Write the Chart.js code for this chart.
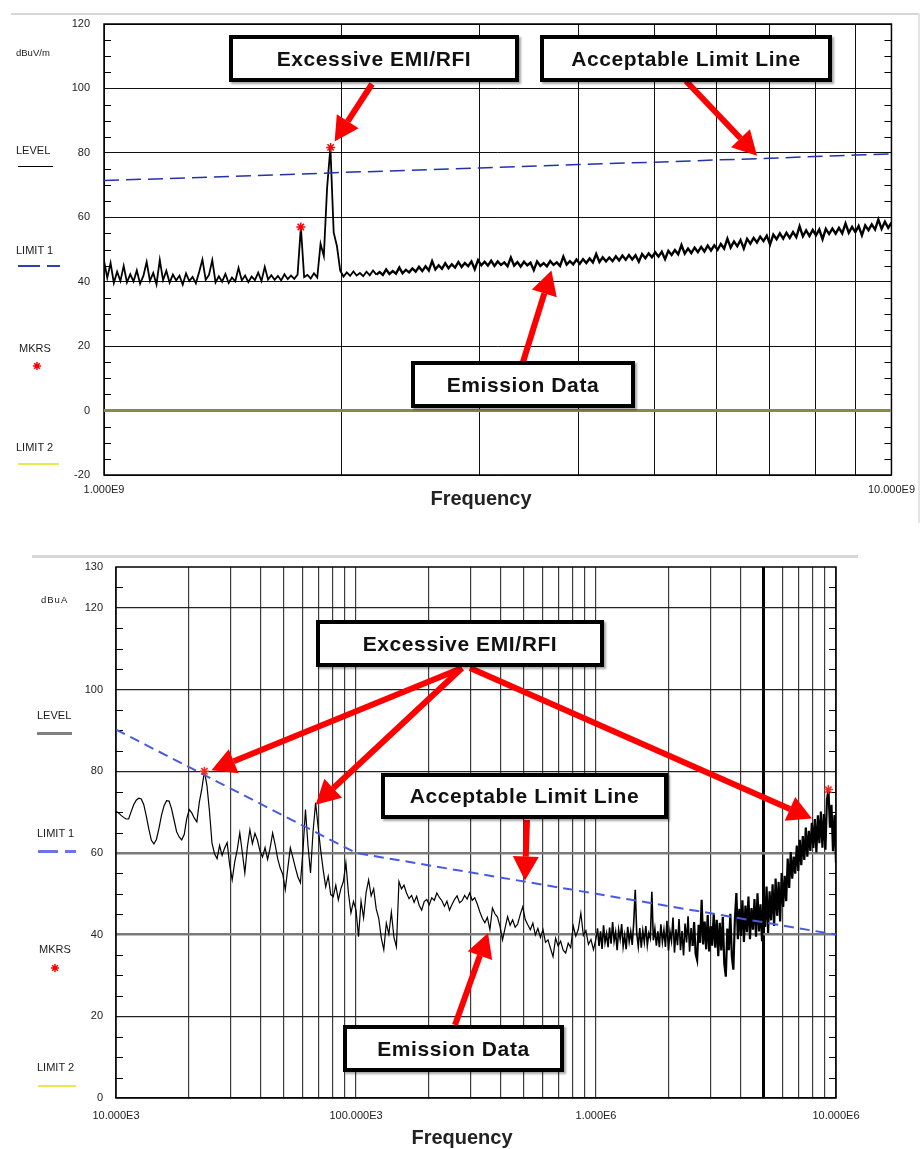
<!DOCTYPE html>
<html>
<head>
<meta charset="utf-8">
<title>EMI / RFI emission scans</title>
<script src="https://cdn.jsdelivr.net/npm/chart.js@4.4.1/dist/chart.umd.min.js"></script>
<style>
  body { margin:0; background:#fff; width:923px; height:1149px; position:relative; overflow:hidden;
         font-family:"Liberation Sans", Arial, sans-serif; color:#111; }
  .sep { position:absolute; background:#d6d6d6; }
  .wrap { position:absolute; left:0; }
  .lbl { position:absolute; font-size:11px; line-height:12px; white-space:nowrap; color:#1a1a1a; }
  .sw { position:absolute; }
  .box { position:absolute; box-sizing:border-box; border:4px solid #000; background:#fff;
         font-weight:bold; font-size:21px; letter-spacing:0.6px; display:flex; align-items:center;
         justify-content:center; box-shadow:2px 2px 2px rgba(0,0,0,0.35); white-space:nowrap; }
  .freq { position:absolute; width:200px; text-align:center; font-weight:bold; font-size:20px; line-height:24px; color:#222; }
</style>
</head>
<body>

<div class="sep" style="left:11px;top:13px;width:908px;height:2px"></div>
<div class="sep" style="left:918px;top:13px;width:2px;height:510px;background:#e4e4e4"></div>
<div class="sep" style="left:32px;top:555px;width:826px;height:3px"></div>

<div class="wrap" style="top:0"><canvas id="topChart" width="923" height="520"></canvas></div>
<div class="wrap" style="top:540px"><canvas id="botChart" width="923" height="609"></canvas></div>

<!-- top chart side legend -->
<div class="lbl" style="left:16px;top:47px;font-size:9.5px">dBuV/m</div>
<div class="lbl" style="left:16px;top:144px">LEVEL</div>
<div class="sw" style="left:18px;top:166px;width:35px;height:1px;background:#000"></div>
<div class="lbl" style="left:16px;top:244px">LIMIT 1</div>
<div class="sw" style="left:18px;top:265px;width:22px;height:1.5px;background:#3040b0"></div>
<div class="sw" style="left:47px;top:265px;width:13px;height:1.5px;background:#3040b0"></div>
<div class="lbl" style="left:19px;top:342px">MKRS</div>
<div class="lbl" style="left:16px;top:441px">LIMIT 2</div>
<div class="sw" style="left:18px;top:463px;width:41px;height:1.5px;background:#e8e850"></div>
<div class="freq" style="left:381px;top:486px">Frequency</div>

<!-- bottom chart side legend -->
<div class="lbl" style="left:41px;top:594px;font-size:9.5px;letter-spacing:1px">dBuA</div>
<div class="lbl" style="left:37px;top:709px">LEVEL</div>
<div class="sw" style="left:37px;top:732px;width:35px;height:3px;background:#808080"></div>
<div class="lbl" style="left:37px;top:827px">LIMIT 1</div>
<div class="sw" style="left:38px;top:850px;width:20px;height:2.5px;background:#6676e6"></div>
<div class="sw" style="left:65px;top:850px;width:11px;height:2.5px;background:#6676e6"></div>
<div class="lbl" style="left:39px;top:943px">MKRS</div>
<div class="lbl" style="left:37px;top:1061px">LIMIT 2</div>
<div class="sw" style="left:38px;top:1085px;width:38px;height:1.5px;background:#e8e850"></div>
<div class="freq" style="left:362px;top:1125px">Frequency</div>

<!-- call-out boxes -->
<div class="box" style="left:229px;top:35px;width:290px;height:47px">Excessive EMI/RFI</div>
<div class="box" style="left:540px;top:35px;width:292px;height:47px">Acceptable Limit Line</div>
<div class="box" style="left:411px;top:361px;width:224px;height:47px">Emission Data</div>
<div class="box" style="left:316px;top:620px;width:288px;height:47px">Excessive EMI/RFI</div>
<div class="box" style="left:381px;top:773px;width:287px;height:46px">Acceptable Limit Line</div>
<div class="box" style="left:343px;top:1025px;width:221px;height:47px">Emission Data</div>

<script>
// ---------- top scan: 1 GHz .. 10 GHz, dBuV/m ----------
var topStart = 1e9, topStop = 1e10;
var topLevel = [
  46.5, 41.2, 45.8, 39.6, 43.1, 40.2, 44.9, 39.8, 42.3, 40.1,
  43.5, 39.4, 41.8, 46.1, 40.3, 42.7, 39.2, 46.8, 40.5, 43.4,
  39.7, 42.2, 40.4, 41.9, 39.1, 42.6, 40.2, 41.5, 39.5, 43.0,
  46.9, 40.6, 42.1, 46.7, 39.8, 41.7, 40.0, 42.4, 39.6, 41.3,
  40.1, 44.3, 40.4, 41.9, 39.9, 41.6, 40.5, 42.8, 40.2, 44.6,
  40.7, 42.0, 40.6, 41.8, 40.4, 42.3, 40.8, 41.9, 40.9, 42.2,
  57.0, 41.4, 42.1, 41.0, 42.6, 41.3, 51.8, 48.0, 69.2, 81.7,
  55.3, 51.0, 43.4, 41.6, 42.9, 41.8, 43.2, 41.9, 42.7, 41.7,
  43.1, 42.0, 43.5, 42.2, 43.0, 42.1, 43.8, 42.4, 43.3, 42.5,
  44.4, 42.6, 43.7, 42.9, 44.1, 43.1, 44.6, 43.3, 44.8, 43.5,
  46.4, 43.8, 45.1, 44.0, 45.7, 44.2, 45.4, 44.4, 46.1, 44.6,
  45.8, 44.8, 46.3, 43.9, 46.7, 45.1, 46.2, 45.0, 46.5, 44.9,
  46.3, 45.2, 46.0, 44.8, 47.5, 45.0, 46.1, 44.7, 46.2, 45.1,
  45.9, 43.6, 46.3, 44.9, 45.8, 44.8, 46.4, 45.2, 46.0, 44.9,
  47.8, 45.3, 46.4, 45.4, 46.9, 45.6, 47.0, 45.8, 47.2, 46.0,
  48.6, 46.1, 47.6, 46.3, 47.5, 46.4, 47.9, 46.6, 48.1, 46.8,
  48.3, 46.9, 48.2, 46.2, 48.6, 47.3, 48.8, 47.6, 49.1, 47.8,
  49.3, 47.0, 49.6, 48.3, 49.8, 48.5, 51.4, 48.7, 50.3, 48.9,
  50.6, 49.2, 50.8, 49.4, 51.2, 49.7, 51.3, 49.9, 51.7, 50.3,
  53.4, 50.6, 52.5, 51.0, 52.9, 50.3, 53.3, 51.8, 53.6, 52.2,
  54.0, 52.6, 54.3, 51.6, 54.6, 53.2, 55.0, 53.4, 55.2, 53.6,
  55.4, 53.8, 57.2, 54.1, 55.9, 54.2, 56.1, 54.4, 56.2, 53.2,
  56.4, 54.8, 56.5, 54.9, 56.7, 55.0, 58.1, 55.2, 57.0, 55.4,
  57.3, 54.4, 57.5, 56.0, 57.8, 56.2, 59.3, 56.4, 58.6, 56.7,
  58.3
];
var topLimitFreq = [1e9, 1.5e9, 2e9, 3e9, 4e9, 5e9, 6e9, 7e9, 8e9, 9e9, 1e10];
var topLimit     = [71.4, 72.8, 73.9, 75.3, 76.4, 77.1, 77.8, 78.3, 78.9, 79.3, 79.7];
var topLimit2Freq = [1e9, 1e10];
var topLimit2     = [0, 0];
var topMkrFreq = [1.778e9, 1.94e9];
var topMkr     = [57.0, 81.7];
var topXTicks  = [1e9, 2e9, 3e9, 4e9, 5e9, 6e9, 7e9, 8e9, 9e9, 1e10];
var topYTicks  = [120, 100, 80, 60, 40, 20, 0, -20];

// ---------- bottom scan: 10 kHz .. 10 MHz, dBuA ----------
var botSweeps = [[1e4, 1e5], [1e5, 1e6], [1e6, 1e7]];
var botLevelA = [
  70.2, 69.8, 69.2, 68.7, 68.3, 68.3, 70.1, 71.8, 72.9, 73.4,
  73.2, 71.8, 69.0, 65.8, 63.1, 62.2, 63.3, 66.0, 69.2, 71.5,
  72.8, 72.7, 70.8, 68.0, 65.2, 63.9, 63.2, 64.5, 68.4, 70.6,
  69.8, 68.5, 67.6, 72.5, 75.8, 80.0, 76.5, 70.2, 62.4, 59.8,
  58.6, 61.8, 59.4, 61.2, 62.5, 57.0, 53.4, 57.8, 60.8, 64.9,
  60.1, 55.1, 61.5, 65.7, 62.3, 64.8, 63.1, 60.4, 59.0, 61.3,
  58.4, 61.2, 64.9, 62.0, 58.6, 56.3, 54.8, 51.0, 56.2, 61.3,
  58.9, 56.4, 54.1, 52.7, 60.5, 70.6, 61.8, 55.1, 65.2, 72.3,
  66.4, 60.8, 55.9, 51.7, 54.3, 49.8, 49.3, 52.1, 48.5, 51.2,
  53.0, 57.6, 50.2, 45.3, 48.1, 46.0
];
var botLevelB = [
  46.0, 39.5, 48.2, 44.1, 50.3, 53.4, 49.5, 51.2, 46.3, 44.0,
  39.2, 36.3, 42.8, 40.1, 45.5, 39.4, 37.0, 53.0, 51.2, 52.1,
  50.2, 48.8, 49.6, 47.9, 49.4, 47.2, 46.0, 48.1, 48.6, 47.3,
  49.0, 48.4, 50.2, 49.1, 48.3, 46.9, 48.2, 46.0, 47.4, 48.6,
  49.5, 47.8, 48.3, 49.6, 48.7, 50.2, 48.4, 49.0, 47.5, 45.6,
  44.0, 42.9, 44.2, 41.2, 46.5, 45.1, 44.3, 42.0, 38.7, 41.6,
  44.4, 42.3, 43.6, 41.8, 42.6, 44.9, 46.8, 43.7, 42.4, 41.2,
  42.8, 39.9, 41.5, 39.3, 41.2, 38.1, 38.7, 36.6, 34.6, 39.1,
  37.2, 38.4, 36.2, 35.5, 37.9, 36.8, 42.1, 39.6, 41.3, 45.3,
  39.8, 41.0, 37.6, 38.8, 36.3, 39.0
];
var botLevelC = [
  39.0, 41.5, 37.2, 40.8, 36.5, 42.3, 38.1, 40.2, 36.9, 41.7,
  37.8, 43.1, 38.4, 40.6, 36.2, 41.2, 38.9, 42.6, 37.1, 39.8,
  36.4, 41.9, 38.3, 40.7, 37.5, 43.0, 51.0, 40.2, 37.1, 41.6,
  36.8, 40.9, 38.2, 42.1, 37.4, 40.3, 39.1, 50.5, 38.6, 41.4,
  37.3, 40.8, 36.9, 42.5, 38.2, 41.1, 37.0, 43.4, 36.1, 40.7,
  38.5, 44.2, 35.6, 41.3, 37.4, 43.8, 36.2, 40.9, 34.9, 42.7,
  38.1, 44.5, 35.8, 41.6, 37.2, 43.1, 35.3, 33.8, 42.4, 38.0,
  48.5, 37.6, 43.2, 36.4, 44.8, 35.9, 42.1, 37.3, 45.2, 36.8,
  43.6, 34.7, 42.9, 36.1, 44.3, 32.8, 29.7, 41.5, 36.2, 45.1,
  34.6, 31.4, 43.7, 50.2, 38.9, 46.3, 39.7, 48.4, 38.2, 47.1,
  40.6, 49.3, 38.9, 46.5, 41.2, 48.7, 39.5, 50.1, 40.8, 47.4,
  38.4, 49.6, 41.9, 51.8, 40.4, 50.6, 43.5, 52.3, 42.1, 53.7,
  44.6, 52.9, 43.2, 55.1, 46.8, 54.4, 48.2, 58.6, 51.4, 60.2,
  53.7, 59.1, 54.9, 61.8, 55.6, 63.2, 57.0, 64.1, 58.3, 66.2,
  59.1, 65.4, 60.5, 67.4, 61.2, 68.3, 60.1, 69.2, 62.4, 70.1,
  61.3, 69.5, 60.8, 73.0, 75.5, 66.2, 71.8, 60.4, 69.3, 57.6
];
var botLimitFreq = [1e4, 1e5, 1e7];
var botLimit     = [90.2, 60, 40];
var botMkrFreq = [2.336e4, 9.30e6];
var botMkr     = [80.0, 75.5];
var botXTicks = [1e4, 2e4, 3e4, 4e4, 5e4, 6e4, 7e4, 8e4, 9e4,
                 1e5, 2e5, 3e5, 4e5, 5e5, 6e5, 7e5, 8e5, 9e5,
                 1e6, 2e6, 3e6, 4e6, 5e6, 6e6, 7e6, 8e6, 9e6, 1e7];
var botYTicks = [130, 120, 100, 80, 60, 40, 20, 0];

// sweep points are log spaced between start and stop of each band
function sweep(start, stop, vals) {
  var n = vals.length;
  return vals.map(function (v, i) {
    return { x: start * Math.pow(stop / start, i / (n - 1)), y: v };
  });
}
function pairs(xs, ys) {
  return xs.map(function (x, i) { return { x: x, y: ys[i] }; });
}
function isDecade(v) {
  var l = Math.log10(v);
  return Math.abs(l - Math.round(l)) < 1e-6;
}
function eng(v) {
  var e = Math.floor(Math.round(Math.log10(v) * 1e6) / 1e6 / 3) * 3;
  return (v / Math.pow(10, e)).toFixed(3) + 'E' + e;
}

function drawArrow(ctx, x1, y1, x2, y2) {
  var a = Math.atan2(y2 - y1, x2 - x1), hl = 24, hw = 26;
  var bx = x2 - hl * Math.cos(a), by = y2 - hl * Math.sin(a);
  ctx.save();
  ctx.strokeStyle = '#ff0000';
  ctx.fillStyle = '#ff0000';
  ctx.lineWidth = 6;
  ctx.beginPath(); ctx.moveTo(x1, y1); ctx.lineTo(bx, by); ctx.stroke();
  ctx.beginPath();
  ctx.moveTo(x2, y2);
  ctx.lineTo(bx + hw / 2 * Math.sin(a), by - hw / 2 * Math.cos(a));
  ctx.lineTo(bx - hw / 2 * Math.sin(a), by + hw / 2 * Math.cos(a));
  ctx.closePath(); ctx.fill();
  ctx.restore();
}
function drawStar(ctx, x, y, r) {
  ctx.save();
  ctx.strokeStyle = '#ff0000'; ctx.lineWidth = 1.5;
  ctx.beginPath();
  for (var k = 0; k < 4; k++) {
    var a = k * Math.PI / 4;
    ctx.moveTo(x - r * Math.cos(a), y - r * Math.sin(a));
    ctx.lineTo(x + r * Math.cos(a), y + r * Math.sin(a));
  }
  ctx.stroke();
  ctx.restore();
}

// frame, minor y ticks, legend marker and red call-out arrows
function framePlugin(o) {
  return {
    id: 'frame',
    beforeDatasetsDraw: function (chart) {
      var ctx = chart.ctx, a = chart.chartArea, y = chart.scales.y;
      ctx.save();
      ctx.strokeStyle = '#000'; ctx.lineWidth = 1;
      ctx.beginPath();
      for (var v = y.min + 5; v < y.max; v += 5) {
        if (v % 20 === 0) continue;
        var py = Math.round(y.getPixelForValue(v)) + 0.5;
        ctx.moveTo(a.left, py); ctx.lineTo(a.left + 7, py);
        ctx.moveTo(a.right - 7, py); ctx.lineTo(a.right, py);
      }
      ctx.stroke();
      ctx.lineWidth = 1.5;
      ctx.strokeRect(a.left, a.top, a.right - a.left, a.bottom - a.top);
      ctx.restore();
    },
    afterDraw: function (chart) {
      var ctx = chart.ctx, xs = chart.scales.x, ys = chart.scales.y;
      drawStar(ctx, o.mkrLegend[0], o.mkrLegend[1] - o.top, 4);
      o.arrows.forEach(function (ar) {
        var tx = xs.getPixelForValue(ar.x) + (ar.dx || 0);
        var ty = ys.getPixelForValue(ar.y) + (ar.dy || 0);
        drawArrow(ctx, ar.from[0], ar.from[1] - o.top, tx, ty);
      });
    }
  };
}

var tickFont = { family: '"Liberation Sans", Arial, sans-serif', size: 11 };

function buildChart(id, c) {
  return new Chart(document.getElementById(id), {
    type: 'line',
    data: { datasets: c.datasets },
    options: {
      responsive: false,
      animation: false,
      events: [],
      layout: { padding: c.padding },
      plugins: { legend: { display: false }, tooltip: { enabled: false } },
      elements: { point: { radius: 0 }, line: { tension: 0 } },
      scales: {
        x: {
          type: 'logarithmic', min: c.xMin, max: c.xMax,
          afterBuildTicks: function (s) { s.ticks = c.xTicks.map(function (v) { return { value: v }; }); },
          afterFit: function (s) { s.height = c.xHeight; },
          border: { display: false },
          grid: { drawTicks: false, color: c.xGridColor, lineWidth: c.xGridWidth },
          ticks: {
            autoSkip: false, maxRotation: 0, padding: c.xPad, color: '#222', font: tickFont,
            callback: function (v) { return c.xLabel(v) ? eng(v) : ''; }
          }
        },
        y: {
          min: c.yMin, max: c.yMax,
          afterFit: function (s) { s.width = c.yWidth; },
          border: { display: false },
          grid: { drawTicks: false, color: c.yGridColor, lineWidth: c.yGridWidth },
          ticks: {
            stepSize: 5, autoSkip: false, padding: c.yPad, color: '#222', font: tickFont,
            callback: function (v) { return c.yLabels.indexOf(v) >= 0 ? String(v) : ''; }
          }
        }
      }
    },
    plugins: [framePlugin(c.frame)]
  });
}

// top chart
buildChart('topChart', {
  padding: { top: 24, right: 26, left: 0, bottom: 0 },
  xMin: topStart, xMax: topStop, xHeight: 45, xPad: 8, xTicks: topXTicks,
  yMin: -20, yMax: 120, yWidth: 104, yPad: 14, yLabels: topYTicks,
  xLabel: function (v) { return Math.abs(v - topStart) < 1 || Math.abs(v - topStop) < 1; },
  xGridColor: '#111', xGridWidth: 1,
  yGridColor: function (ctx) { return ctx.tick.value % 20 === 0 ? '#111' : 'rgba(0,0,0,0)'; },
  yGridWidth: 1,
  datasets: [
    { label: 'MKRS', data: pairs(topMkrFreq, topMkr), showLine: false,
      pointStyle: 'star', pointRadius: 4.5, pointBorderColor: '#ff0000', pointBorderWidth: 1.5 },
    { label: 'LIMIT 1', data: pairs(topLimitFreq, topLimit), borderColor: '#2433a8',
      borderWidth: 1.5, borderDash: [15, 7] },
    { label: 'LEVEL', data: sweep(topStart, topStop, topLevel), borderColor: '#000', borderWidth: 1.8,
      segment: { borderWidth: function (ctx) { return ctx.p0.parsed.x > 2.2e9 ? 2.4 : 1.8; } } },
    { label: 'LIMIT 2', data: pairs(topLimit2Freq, topLimit2), borderColor: '#8a8a48', borderWidth: 3 }
  ],
  frame: {
    top: 0, mkrLegend: [37, 366],
    arrows: [
      { from: [372, 84], x: 1.94e9, y: 81.7, dx: 4, dy: -6 },
      { from: [686, 81], x: 6.75e9, y: 78.5, dy: -2 },
      { from: [523, 362], x: 3.7e9, y: 43.5 }
    ]
  }
});

// bottom chart
var botData = sweep(botSweeps[0][0], botSweeps[0][1], botLevelA)
  .concat(sweep(botSweeps[1][0], botSweeps[1][1], botLevelB))
  .concat(sweep(botSweeps[2][0], botSweeps[2][1], botLevelC));

buildChart('botChart', {
  padding: { top: 27, right: 87, left: 0, bottom: 0 },
  xMin: 1e4, xMax: 1e7, xHeight: 51, xPad: 11, xTicks: botXTicks,
  yMin: 0, yMax: 130, yWidth: 116, yPad: 13, yLabels: botYTicks,
  xLabel: isDecade,
  xGridColor: function (ctx) { return Math.abs(ctx.tick.value - 5e6) < 1 ? '#000' : '#3c3c3c'; },
  xGridWidth: function (ctx) { return Math.abs(ctx.tick.value - 5e6) < 1 ? 3 : 1.2; },
  yGridColor: function (ctx) {
    var v = ctx.tick.value;
    if (v === 60 || v === 40) return '#7a7a7a';
    return v % 20 === 0 ? '#222' : 'rgba(0,0,0,0)';
  },
  yGridWidth: function (ctx) { var v = ctx.tick.value; return (v === 60 || v === 40) ? 2.5 : 1.2; },
  datasets: [
    { label: 'MKRS', data: pairs(botMkrFreq, botMkr), showLine: false,
      pointStyle: 'star', pointRadius: 4.5, pointBorderColor: '#ff2020', pointBorderWidth: 1.5 },
    { label: 'LIMIT 1', data: pairs(botLimitFreq, botLimit), borderColor: '#4a5ae0',
      borderWidth: 2, borderDash: [10, 6] },
    { label: 'LEVEL', data: botData, borderColor: '#000', borderWidth: 1.2,
      segment: { borderWidth: function (ctx) {
        var f = ctx.p0.parsed.x;
        return f > 2.5e6 ? 2.2 : (f > 1e6 ? 1.6 : 1.2);
      } } }
  ],
  frame: {
    top: 540, mkrLegend: [55, 968],
    arrows: [
      { from: [462, 668], x: 2.336e4, y: 80.0, dx: 7, dy: -1 },
      { from: [462, 668], x: 6.79e4, y: 72.3, dx: 0, dy: 2 },
      { from: [470, 668], x: 7.94e6, y: 68.4 },
      { from: [527, 820], x: 5.06e5, y: 53.0, dy: -1 },
      { from: [455, 1025], x: 3.55e5, y: 40.4 }
    ]
  }
});
</script>
</body>
</html>
